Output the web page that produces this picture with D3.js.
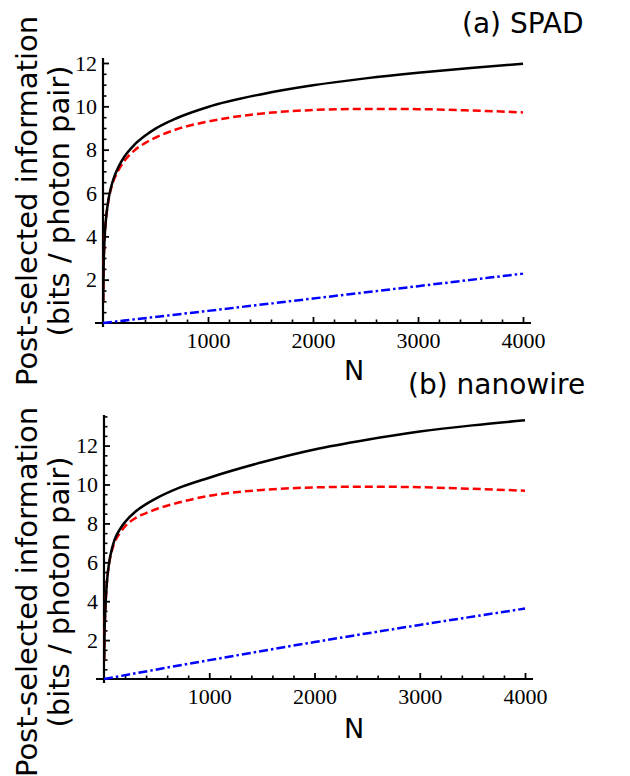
<!DOCTYPE html>
<html>
<head>
<meta charset="utf-8">
<script src="https://cdn.jsdelivr.net/npm/d3@7"></script>
<style>
  body { margin: 0; background: #fff; }
  svg { display: block; }
</style>
</head>
<body>
<svg id="chart" width="630" height="776"></svg>
<script>
// values
const nValues = [2, 5, 10, 20, 35, 50, 75, 100, 150, 200, 300, 400, 500, 700, 1000, 1500, 2000, 2500, 3000, 3500, 4000];
const lineN = [0, 1000, 2000, 3000, 4000];

// (a) SPAD
const spadTotal = [1.0, 2.3, 3.3, 4.3, 5.1, 5.64, 6.23, 6.65, 7.23, 7.65, 8.23, 8.64, 8.97, 9.45, 9.97, 10.55, 10.97, 11.29, 11.55, 11.77, 11.97];
const spadPost  = [1.0, 2.3, 3.3, 4.3, 5.08, 5.6, 6.18, 6.56, 7.08, 7.45, 7.97, 8.3, 8.56, 8.94, 9.3, 9.66, 9.83, 9.88, 9.87, 9.81, 9.72];
const spadLow   = [0, 0.56, 1.13, 1.7, 2.28];

// (b) nanowire
const wireTotal = [1.0, 2.4, 3.2, 4.4, 5.4, 6.02, 6.69, 7.15, 7.69, 8.07, 8.61, 8.99, 9.3, 9.8, 10.35, 11.14, 11.8, 12.3, 12.72, 13.04, 13.3];
const wirePost  = [1.0, 2.4, 3.2, 4.4, 5.38, 5.98, 6.6, 7.02, 7.5, 7.85, 8.28, 8.53, 8.74, 9.06, 9.42, 9.72, 9.85, 9.89, 9.86, 9.78, 9.68];
const wireLow   = [0, 0.97, 1.9, 2.78, 3.62];

const xTicks = [1000, 2000, 3000, 4000];
const yTicks = [2, 4, 6, 8, 10, 12];

const panels = [
  { title: '(a) SPAD', titleX: 462, titleY: 33, total: spadTotal, post: spadPost, low: spadLow,
    xRange: [103, 523], yRange: [323, 63], yMax: 12.23, nY: 380, labelY: 201 },
  { title: '(b) nanowire', titleX: 408, titleY: 394, total: wireTotal, post: wirePost, low: wireLow,
    xRange: [104, 525], yRange: [679, 445.6], yMax: 13.57, nY: 738, labelY: 592 }
];

const svg = d3.select('#chart');
const sansFont = '"DejaVu Sans", sans-serif';
const serifFont = '"Liberation Serif", "Times New Roman", serif';

panels.forEach(p => {
  const x = d3.scaleLinear().domain([0, 4000]).range(p.xRange);
  const y = d3.scaleLinear().domain([0, 12]).range(p.yRange);
  const g = svg.append('g');

  // minor ticks
  const xMinor = d3.range(200, 4001, 200).filter(v => v % 1000 != 0);
  const yMinor = d3.range(0.5, p.yMax, 0.5).filter(v => v % 2 != 0);

  g.append('g')
    .attr('transform', `translate(0,${y(0)})`)
    .call(d3.axisBottom(x).tickValues(xMinor).tickSize(-3.5).tickFormat(''))
    .call(a => a.select('.domain').remove())
    .selectAll('line').attr('stroke-width', 1.6);

  g.append('g')
    .attr('transform', `translate(${x(0)},0)`)
    .call(d3.axisLeft(y).tickValues(yMinor).tickSize(-3.5).tickFormat(''))
    .call(a => a.select('.domain').remove())
    .selectAll('line').attr('stroke-width', 1.6);

  // major ticks + labels
  const xa = g.append('g')
    .attr('transform', `translate(0,${y(0)})`)
    .call(d3.axisBottom(x).tickValues(xTicks).tickSize(-6).tickPadding(9).tickFormat(d3.format('d')))
    .call(a => a.select('.domain').remove());
  xa.selectAll('line').attr('stroke-width', 1.8);
  xa.selectAll('text').attr('font-family', serifFont).attr('font-size', 22).attr('fill', '#000');

  const ya = g.append('g')
    .attr('transform', `translate(${x(0)},0)`)
    .call(d3.axisLeft(y).tickValues(yTicks).tickSize(-6).tickPadding(6).tickFormat(d3.format('d')))
    .call(a => a.select('.domain').remove());
  ya.selectAll('line').attr('stroke-width', 1.8);
  ya.selectAll('text').attr('font-family', serifFont).attr('font-size', 22).attr('fill', '#000');

  // axis lines, a little past the origin
  g.append('line')
    .attr('x1', x(0) - 8).attr('x2', x(4076))
    .attr('y1', y(0)).attr('y2', y(0))
    .attr('stroke', '#000').attr('stroke-width', 2.2);
  g.append('line')
    .attr('x1', x(0)).attr('x2', x(0))
    .attr('y1', y(0) + 4).attr('y2', y(p.yMax))
    .attr('stroke', '#000').attr('stroke-width', 2.2);

  const curve = d3.line()
    .curve(d3.curveMonotoneX)
    .x((d, i) => x(nValues[i]))
    .y(d => y(d));

  const straight = d3.line()
    .curve(d3.curveMonotoneX)
    .x((d, i) => x(lineN[i]))
    .y(d => y(d));

  g.append('path')
    .attr('d', straight(p.low))
    .attr('fill', 'none')
    .attr('stroke', '#0000ff')
    .attr('stroke-width', 2.5)
    .attr('stroke-dasharray', '9,3,2.5,3');

  g.append('path')
    .attr('d', curve(p.post))
    .attr('fill', 'none')
    .attr('stroke', '#ff0000')
    .attr('stroke-width', 2.5)
    .attr('stroke-dasharray', '8,4');

  g.append('path')
    .attr('d', curve(p.total))
    .attr('fill', 'none')
    .attr('stroke', '#000')
    .attr('stroke-width', 2.5);

  // texts
  g.append('text')
    .attr('x', p.titleX).attr('y', p.titleY)
    .attr('font-family', sansFont).attr('font-size', 28)
    .text(p.title);

  g.append('text')
    .attr('x', 354).attr('y', p.nY)
    .attr('text-anchor', 'middle')
    .attr('font-family', sansFont).attr('font-size', 27)
    .text('N');

  const yLabel = g.append('text')
    .attr('transform', `translate(0,${p.labelY}) rotate(-90)`)
    .attr('text-anchor', 'middle')
    .attr('font-family', sansFont).attr('font-size', 29);
  yLabel.append('tspan').attr('x', 0).attr('y', 37).text('Post-selected information');
  yLabel.append('tspan').attr('x', 0).attr('y', 69).text('(bits / photon pair)');
});
</script>
</body>
</html>
